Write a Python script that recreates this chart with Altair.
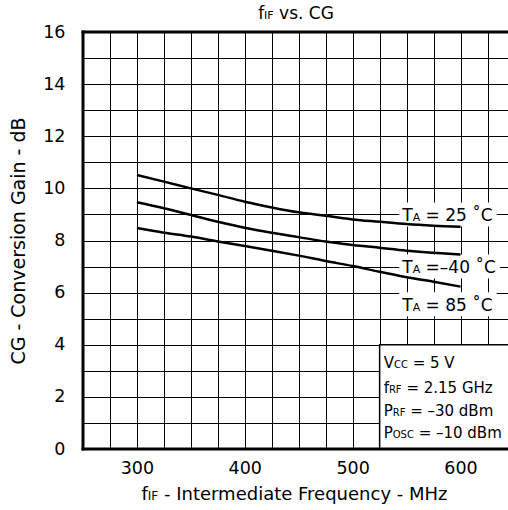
import altair as alt
import pandas as pd

# ---- data ----
freq = [300, 325, 350, 375, 400, 425, 450, 475, 500, 525, 550, 575, 600]
cg_25 = [10.51, 10.26, 10.0, 9.75, 9.49, 9.27, 9.08, 8.95, 8.81, 8.72, 8.63, 8.57, 8.53]
cg_m40 = [9.47, 9.24, 8.98, 8.72, 8.49, 8.30, 8.13, 7.96, 7.83, 7.72, 7.61, 7.53, 7.46]
cg_85 = [8.48, 8.30, 8.15, 7.96, 7.79, 7.61, 7.42, 7.21, 7.02, 6.80, 6.59, 6.42, 6.23]

x_ticks = [300, 400, 500, 600]
y_ticks = [0, 2, 4, 6, 8, 10, 12, 14, 16]

curve_labels = [("T", "A", " = 25 ˚C", 9.0), ("T", "A", " =–40 ˚C", 7.0), ("T", "A", " = 85 ˚C", 5.55)]
cond_lines = [("V", "CC", " = 5 V", 3.30), ("f", "RF", " = 2.15 GHz", 2.34),
              ("P", "RF", " = –30 dBm", 1.46), ("P", "OSC", " = –10 dBm", 0.63)]

XMIN, XMAX = 250, 644
W, H = 425, 417
PXU = W / (XMAX - XMIN)
FONT = "DejaVu Sans"

WID = {' ': .318, '-': .361, '.': .318, '=': .838, '–': .5, '˚': .5,
       'A': .684, 'B': .686, 'C': .698, 'F': .575, 'G': .775, 'H': .752, 'I': .295, 'M': .863,
       'O': .787, 'P': .603, 'R': .695, 'S': .635, 'T': .611, 'V': .684,
       'a': .613, 'c': .55, 'd': .635, 'e': .615, 'f': .352, 'i': .278, 'm': .974, 'n': .634,
       'o': .612, 'q': .635, 'r': .411, 's': .521, 't': .392, 'u': .634, 'v': .592, 'y': .592, 'z': .525}


def tw(s, size):
    return sum(WID.get(ch, .636) for ch in s) * size


def pieces(a, sub, rest, F, s):
    out = [(a, F, 0.0), (sub, s, tw(a, F))]
    off = tw(a, F) + tw(sub, s)
    stripped = rest.lstrip(" ")
    off += tw(rest[: len(rest) - len(stripped)], F)
    out.append((stripped, F, off))
    total = tw(a, F) + tw(sub, s) + tw(rest, F)
    return out, total


X_AX = alt.Axis(values=list(range(250, 650, 25)), title="", grid=True, gridColor="black",
                gridWidth=1, ticks=False, domain=False, labelFont=FONT, labelFontSize=17.5,
                labelColor="black", labelPadding=10, labelFlush=False, labelOverlap=False,
                labelExpr="indexof([" + ",".join(str(t) for t in x_ticks) + "], datum.value) >= 0 ? datum.label : ''")
Y_AX = alt.Axis(values=list(range(0, 17)), title="CG - Conversion Gain - dB", grid=True,
                gridColor="black", gridWidth=1, ticks=False, domain=False, labelFont=FONT,
                labelFontSize=17.5, labelColor="black", labelPadding=18, labelFlush=False,
                labelOverlap=False,
                labelExpr="indexof([" + ",".join(str(t) for t in y_ticks) + "], datum.value) >= 0 ? datum.label : ''",
                titleFont=FONT, titleFontSize=19, titleFontWeight="normal", titleColor="black",
                titleX=-65, titleY=H / 2, titleAngle=270, titleBaseline="middle", titleAlign="center")

dummy = pd.DataFrame({"a": [0]})
xs = alt.Scale(domain=[XMIN, XMAX], nice=False, zero=False)
ys = alt.Scale(domain=[0, 16], nice=False, zero=False)


def XD(v):
    return alt.XDatum(datum=v, scale=xs, axis=X_AX)


def YD(v):
    return alt.YDatum(datum=v, scale=ys, axis=Y_AX)


rows = []
for name, vals in [("25", cg_25), ("-40", cg_m40), ("85", cg_85)]:
    for f, v in zip(freq, vals):
        rows.append({"f": f, "cg": v, "T": name})
df = pd.DataFrame(rows)

base = alt.Chart(df).mark_line(color="black", strokeWidth=2.5, interpolate="monotone").encode(
    x=alt.X("f:Q", scale=xs, axis=X_AX),
    y=alt.Y("cg:Q", scale=ys, axis=Y_AX),
    detail="T:N",
)

layers = []

# label background boxes
for a, sub, rest, v in curve_labels:
    _, tot = pieces(a, sub, rest, 17, 11)
    lx = 546
    layers.append(alt.Chart(dummy).mark_rect(color="white").encode(
        x=XD(lx - 3 / PXU), x2=alt.datum(lx + (tot + 4) / PXU),
        y=YD(v + 0.46), y2=alt.datum(v - 0.46)))

# conditions box
layers.append(alt.Chart(dummy).mark_rect(fill="white", stroke="black", strokeWidth=1.5, clip=True).encode(
    x=XD(525), x2=alt.datum(XMAX + 10), y=YD(4), y2=alt.datum(0)))

layers.append(base)

# curve label texts
for a, sub, rest, v in curve_labels:
    ps, _ = pieces(a, sub, rest, 17, 11)
    for t, size, off in ps:
        layers.append(alt.Chart(dummy).mark_text(text=t, font=FONT, fontSize=size, color="black",
                                                 align="left", baseline="alphabetic",
                                                 dx=off, dy=0.729 * 17 / 2).encode(
            x=XD(546), y=YD(v)))

# conditions text
for a, sub, rest, v in cond_lines:
    ps, _ = pieces(a, sub, rest, 15, 10)
    for t, size, off in ps:
        layers.append(alt.Chart(dummy).mark_text(text=t, font=FONT, fontSize=size, color="black",
                                                 align="left", baseline="alphabetic",
                                                 dx=4 + off, dy=0.729 * 15 / 2).encode(
            x=XD(525), y=YD(v)))

# thick frame
layers.append(alt.Chart(dummy).mark_rule(color="black", strokeWidth=3, strokeCap="square").encode(
    x=XD(XMIN), x2=alt.datum(XMAX), y=YD(16)))
layers.append(alt.Chart(dummy).mark_rule(color="black", strokeWidth=3, strokeCap="square").encode(
    x=XD(XMIN), x2=alt.datum(XMAX), y=YD(0)))
layers.append(alt.Chart(dummy).mark_rule(color="black", strokeWidth=3, strokeCap="square").encode(
    x=XD(XMIN), y=YD(0), y2=alt.datum(16)))

# chart title and x-axis title with subscripts
for (a, sub, rest), F, s, cx, by in [(("f", "IF", " vs. CG"), 17, 11, 296 - 83, 18.7 - 32),
                                     (("f", "IF", " - Intermediate Frequency - MHz"), 18, 12, 295.5 - 83, 500 - 32)]:
    ps, tot = pieces(a, sub, rest, F, s)
    x0 = cx - tot / 2
    for t, size, off in ps:
        layers.append(alt.Chart(dummy).mark_text(text=t, font=FONT, fontSize=size, color="black",
                                                 align="left", baseline="alphabetic").encode(
            x=alt.value(x0 + off), y=alt.value(by)))

chart = alt.layer(*layers).properties(
    width=W, height=H,
    padding={"left": 83, "top": 32, "right": 0, "bottom": 61},
    autosize=alt.AutoSizeParams(type="none"),
    background="white",
).configure_view(strokeWidth=0)

chart.save("out.html", embed_options={"renderer": "svg", "actions": False})
